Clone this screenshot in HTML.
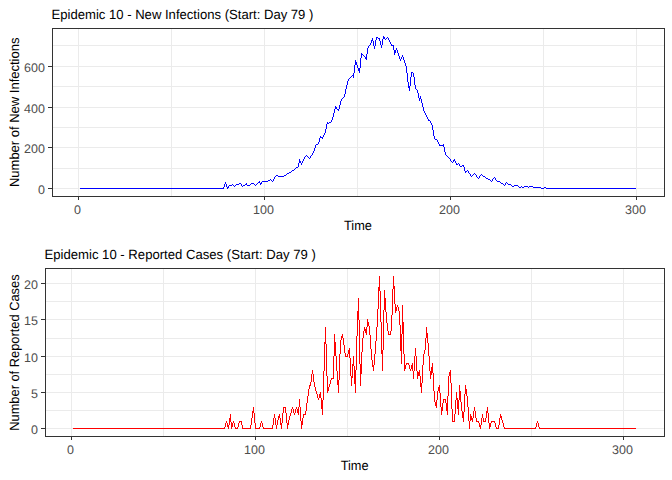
<!DOCTYPE html>
<html><head><meta charset="utf-8"><title>Epidemic 10</title>
<style>html,body{margin:0;padding:0;background:#fff;overflow:hidden}svg{display:block}</style>
</head><body>
<svg width="672" height="480" viewBox="0 0 672 480" shape-rendering="crispEdges">
<rect width="672" height="480" fill="#fff"/>
<path d="M52.5 168.5H664.5M52.5 127.5H664.5M52.5 86.5H664.5M52.5 45.5H664.5M52.5 188.5H664.5M52.5 147.5H664.5M52.5 107.5H664.5M52.5 66.5H664.5M171.5 28.5V196.5M357.5 28.5V196.5M543.5 28.5V196.5M78.5 28.5V196.5M264.5 28.5V196.5M450.5 28.5V196.5M636.5 28.5V196.5" stroke="#ebebeb" stroke-width="1" fill="none"/>
<path d="M45.5 410.5H664.5M45.5 374.5H664.5M45.5 338.5H664.5M45.5 301.5H664.5M45.5 428.5H664.5M45.5 392.5H664.5M45.5 356.5H664.5M45.5 319.5H664.5M45.5 283.5H664.5M163.5 268.5V436.5M347.5 268.5V436.5M531.5 268.5V436.5M71.5 268.5V436.5M255.5 268.5V436.5M439.5 268.5V436.5M623.5 268.5V436.5" stroke="#ebebeb" stroke-width="1" fill="none"/>
<path d="M383 36h1v3h-1zM377 37h1v1h-1zM387 37h1v1h-1zM384 37h1v2h-1zM376 37h1v3h-1zM378 38h1v1h-1zM386 38h1v1h-1zM388 38h1v2h-1zM372 38h1v3h-1zM379 38h1v3h-1zM385 39h1v1h-1zM382 39h1v6h-1zM389 40h1v2h-1zM371 40h1v3h-1zM375 40h1v6h-1zM380 41h1v4h-1zM373 41h1v5h-1zM390 42h1v2h-1zM370 43h1v2h-1zM391 44h1v2h-1zM369 45h1v1h-1zM392 45h1v1h-1zM381 45h1v3h-1zM393 45h1v5h-1zM368 46h1v2h-1zM374 46h1v3h-1zM396 48h1v2h-1zM367 48h1v6h-1zM395 50h1v3h-1zM397 50h1v3h-1zM394 50h1v5h-1zM398 53h1v3h-1zM361 53h1v5h-1zM362 54h1v1h-1zM366 54h1v6h-1zM363 55h1v1h-1zM402 55h1v2h-1zM364 56h1v1h-1zM399 56h1v3h-1zM365 57h1v2h-1zM401 57h1v2h-1zM403 57h1v3h-1zM360 58h1v10h-1zM400 59h1v2h-1zM404 60h1v3h-1zM355 60h1v5h-1zM356 62h1v3h-1zM405 63h1v3h-1zM357 65h1v3h-1zM354 65h1v8h-1zM406 66h1v7h-1zM358 68h1v3h-1zM359 68h1v5h-1zM412 72h1v1h-1zM411 72h1v5h-1zM413 73h1v4h-1zM353 73h1v5h-1zM407 73h1v9h-1zM352 75h1v1h-1zM351 76h1v1h-1zM350 77h1v1h-1zM414 77h1v8h-1zM410 77h1v9h-1zM349 78h1v1h-1zM348 79h1v2h-1zM347 81h1v4h-1zM408 82h1v6h-1zM346 85h1v4h-1zM415 85h1v4h-1zM409 86h1v5h-1zM416 89h1v1h-1zM345 89h1v5h-1zM417 90h1v3h-1zM418 93h1v5h-1zM344 94h1v3h-1zM420 96h1v3h-1zM343 97h1v1h-1zM342 98h1v1h-1zM419 98h1v3h-1zM341 99h1v2h-1zM421 99h1v4h-1zM340 101h1v4h-1zM422 103h1v4h-1zM339 105h1v4h-1zM335 106h1v3h-1zM336 107h1v2h-1zM423 107h1v4h-1zM337 109h1v1h-1zM338 109h1v2h-1zM334 109h1v4h-1zM424 111h1v2h-1zM425 113h1v2h-1zM333 113h1v4h-1zM426 115h1v2h-1zM427 117h1v2h-1zM332 117h1v3h-1zM428 119h1v2h-1zM429 120h1v1h-1zM331 120h1v2h-1zM430 121h1v2h-1zM329 122h2v1h-2zM327 122h1v2h-1zM328 123h1v1h-1zM431 123h1v2h-1zM326 124h1v5h-1zM432 125h1v5h-1zM325 129h1v4h-1zM433 130h1v6h-1zM324 133h1v2h-1zM323 135h1v2h-1zM320 136h1v2h-1zM434 136h1v3h-1zM321 137h1v1h-1zM322 137h1v2h-1zM319 138h1v4h-1zM435 139h2v1h-2zM437 140h1v2h-1zM318 142h1v2h-1zM438 142h1v2h-1zM316 144h2v1h-2zM439 144h1v2h-1zM443 144h1v3h-1zM440 145h3v1h-3zM315 145h1v3h-1zM444 147h1v5h-1zM314 148h1v3h-1zM313 151h1v2h-1zM445 152h1v3h-1zM312 153h1v2h-1zM306 155h1v1h-1zM311 155h1v1h-1zM446 155h1v1h-1zM305 156h1v1h-1zM307 156h1v1h-1zM447 156h1v1h-1zM310 156h1v2h-1zM308 157h1v1h-1zM448 157h1v1h-1zM304 157h1v2h-1zM309 158h1v1h-1zM449 158h1v1h-1zM303 159h1v2h-1zM450 159h1v2h-1zM454 159h1v2h-1zM299 159h1v4h-1zM453 160h1v2h-1zM451 161h1v1h-1zM300 161h1v2h-1zM302 161h1v2h-1zM455 161h1v2h-1zM452 162h1v1h-1zM458 163h1v1h-1zM301 163h1v2h-1zM456 163h1v2h-1zM298 163h1v4h-1zM457 164h1v1h-1zM459 164h1v2h-1zM462 165h1v1h-1zM463 165h1v2h-1zM460 166h2v1h-2zM296 167h2v1h-2zM464 167h1v4h-1zM295 168h1v1h-1zM294 169h1v1h-1zM292 170h2v1h-2zM467 170h1v1h-1zM291 171h1v1h-1zM466 171h1v1h-1zM465 171h1v2h-1zM468 171h1v2h-1zM289 172h2v1h-2zM287 173h2v1h-2zM469 173h1v1h-1zM474 173h1v1h-1zM286 174h1v1h-1zM473 174h1v1h-1zM475 174h1v1h-1zM481 174h1v1h-1zM470 174h1v2h-1zM276 175h2v1h-2zM284 175h2v1h-2zM472 175h1v1h-1zM480 175h1v1h-1zM482 175h1v1h-1zM476 175h1v2h-1zM275 176h1v1h-1zM278 176h6v1h-6zM471 176h1v1h-1zM483 176h2v1h-2zM479 176h1v2h-1zM477 177h1v1h-1zM485 177h1v1h-1zM494 177h1v1h-1zM274 177h1v2h-1zM478 178h1v1h-1zM486 178h2v1h-2zM493 178h1v1h-1zM495 178h1v2h-1zM270 179h1v1h-1zM488 179h2v1h-2zM273 179h1v2h-1zM492 179h1v2h-1zM268 180h2v1h-2zM271 180h1v1h-1zM490 180h1v1h-1zM496 180h1v1h-1zM262 181h6v1h-6zM272 181h1v1h-1zM491 181h1v1h-1zM497 181h3v1h-3zM259 181h1v2h-1zM258 182h1v1h-1zM500 182h1v1h-1zM506 182h1v1h-1zM225 182h1v2h-1zM261 182h1v2h-1zM239 183h2v1h-2zM251 183h3v1h-3zM257 183h1v1h-1zM501 183h2v1h-2zM507 183h1v1h-1zM246 183h1v2h-1zM260 183h1v2h-1zM505 183h1v2h-1zM232 184h1v1h-1zM236 184h3v1h-3zM245 184h1v1h-1zM250 184h1v1h-1zM254 184h1v1h-1zM256 184h1v1h-1zM503 184h1v1h-1zM508 184h3v1h-3zM241 184h1v2h-1zM224 184h1v3h-1zM226 184h1v3h-1zM229 185h3v1h-3zM233 185h1v1h-1zM235 185h1v1h-1zM243 185h2v1h-2zM247 185h3v1h-3zM255 185h1v1h-1zM504 185h1v1h-1zM511 185h1v1h-1zM514 185h4v1h-4zM234 186h1v1h-1zM242 186h1v1h-1zM512 186h2v1h-2zM518 186h1v1h-1zM521 186h1v1h-1zM524 186h4v1h-4zM529 186h4v1h-4zM228 186h1v2h-1zM519 187h2v1h-2zM522 187h2v1h-2zM528 187h1v1h-1zM533 187h8v1h-8zM544 187h2v1h-2zM223 187h1v2h-1zM227 187h1v2h-1zM80 188h143v1h-143zM541 188h3v1h-3zM546 188h90v1h-90z" fill="#0000ff"/>
<path d="M393 276h1v13h-1zM379 276h1v15h-1zM394 286h1v18h-1zM378 287h1v22h-1zM392 289h1v26h-1zM384 290h1v20h-1zM380 291h1v31h-1zM385 298h1v14h-1zM358 298h1v22h-1zM395 304h1v9h-1zM397 305h1v2h-1zM402 305h1v29h-1zM396 307h1v4h-1zM398 307h1v4h-1zM377 309h1v18h-1zM383 310h1v40h-1zM399 311h1v14h-1zM357 311h1v25h-1zM386 312h1v11h-1zM391 315h1v16h-1zM367 319h1v8h-1zM359 320h1v44h-1zM368 322h1v4h-1zM381 322h1v32h-1zM403 322h1v32h-1zM387 323h1v8h-1zM400 325h1v26h-1zM369 326h1v9h-1zM364 327h1v4h-1zM366 327h1v8h-1zM426 327h1v11h-1zM376 327h1v14h-1zM325 327h1v17h-1zM365 329h1v4h-1zM388 331h1v4h-1zM390 331h1v4h-1zM363 331h1v7h-1zM427 333h1v10h-1zM389 334h1v1h-1zM342 334h1v4h-1zM334 334h1v22h-1zM401 334h1v30h-1zM370 335h1v14h-1zM341 336h1v4h-1zM356 336h1v34h-1zM343 338h1v7h-1zM425 338h1v12h-1zM362 338h1v14h-1zM340 340h1v14h-1zM375 341h1v13h-1zM335 342h1v14h-1zM324 342h1v29h-1zM428 343h1v13h-1zM326 344h1v32h-1zM344 345h1v8h-1zM415 348h1v8h-1zM349 348h1v10h-1zM371 349h1v11h-1zM348 350h1v4h-1zM424 350h1v4h-1zM382 350h1v21h-1zM361 352h1v22h-1zM345 353h1v4h-1zM347 354h1v3h-1zM374 354h1v11h-1zM423 354h1v11h-1zM404 354h1v17h-1zM339 354h1v26h-1zM346 356h1v1h-1zM353 356h1v10h-1zM336 356h1v15h-1zM414 356h1v15h-1zM416 356h1v15h-1zM429 356h1v15h-1zM333 356h1v23h-1zM350 358h1v18h-1zM372 360h1v7h-1zM407 363h1v1h-1zM406 363h1v2h-1zM408 363h1v2h-1zM412 363h1v8h-1zM432 363h1v10h-1zM352 364h1v14h-1zM360 364h1v22h-1zM405 365h1v4h-1zM409 365h1v4h-1zM411 365h1v4h-1zM373 365h1v6h-1zM422 365h1v18h-1zM354 366h1v18h-1zM431 367h1v8h-1zM410 369h1v2h-1zM312 370h1v4h-1zM419 370h1v6h-1zM450 370h1v13h-1zM355 370h1v23h-1zM413 371h1v8h-1zM417 371h1v8h-1zM430 371h1v8h-1zM337 371h1v14h-1zM323 371h1v29h-1zM418 372h1v4h-1zM449 372h1v4h-1zM433 373h1v18h-1zM311 374h1v8h-1zM313 374h1v8h-1zM351 376h1v10h-1zM420 376h1v11h-1zM327 376h1v17h-1zM448 376h1v20h-1zM332 378h1v1h-1zM331 378h1v2h-1zM330 380h1v4h-1zM338 380h1v13h-1zM310 382h1v4h-1zM314 382h1v5h-1zM421 383h1v10h-1zM451 383h1v26h-1zM329 384h1v3h-1zM309 385h1v4h-1zM439 385h1v8h-1zM465 385h1v9h-1zM459 385h1v15h-1zM315 387h1v4h-1zM328 387h1v4h-1zM438 387h1v4h-1zM308 389h1v7h-1zM466 389h1v7h-1zM316 391h1v3h-1zM437 391h1v9h-1zM434 391h1v11h-1zM460 391h1v11h-1zM320 392h1v6h-1zM456 392h1v8h-1zM440 393h1v14h-1zM317 394h1v4h-1zM319 394h1v4h-1zM464 394h1v18h-1zM307 396h1v7h-1zM467 396h1v11h-1zM447 396h1v19h-1zM318 398h1v2h-1zM321 398h1v11h-1zM457 398h1v11h-1zM444 399h1v1h-1zM443 399h1v4h-1zM445 399h1v4h-1zM299 399h1v8h-1zM436 400h1v8h-1zM455 400h1v14h-1zM322 400h1v15h-1zM458 400h1v15h-1zM435 402h1v4h-1zM461 402h1v9h-1zM306 403h1v8h-1zM442 403h1v8h-1zM446 403h1v8h-1zM284 407h1v1h-1zM292 407h1v2h-1zM296 407h1v2h-1zM474 407h1v4h-1zM253 407h1v6h-1zM283 407h1v6h-1zM285 407h1v6h-1zM487 407h1v6h-1zM298 407h1v8h-1zM441 407h1v8h-1zM300 407h1v14h-1zM468 407h1v14h-1zM291 409h1v4h-1zM293 409h1v4h-1zM295 409h1v4h-1zM297 409h1v4h-1zM452 409h1v13h-1zM305 411h1v4h-1zM252 411h1v7h-1zM462 411h1v7h-1zM473 411h1v7h-1zM475 411h1v7h-1zM486 411h1v7h-1zM463 412h1v10h-1zM294 413h1v2h-1zM290 413h1v3h-1zM254 413h1v10h-1zM282 413h1v10h-1zM286 413h1v10h-1zM488 413h1v10h-1zM304 414h1v1h-1zM274 414h1v4h-1zM279 414h1v4h-1zM303 414h1v4h-1zM482 414h1v4h-1zM500 414h1v4h-1zM470 414h1v7h-1zM230 414h1v8h-1zM454 414h1v8h-1zM278 416h1v4h-1zM289 416h1v4h-1zM471 416h1v4h-1zM501 416h1v4h-1zM472 418h1v4h-1zM476 418h1v4h-1zM483 418h1v4h-1zM485 418h1v4h-1zM229 418h1v7h-1zM251 418h1v7h-1zM273 418h1v7h-1zM275 418h1v7h-1zM280 418h1v7h-1zM302 418h1v7h-1zM481 418h1v7h-1zM499 418h1v7h-1zM502 420h1v3h-1zM277 420h1v5h-1zM288 420h1v5h-1zM240 421h1v1h-1zM453 421h1v1h-1zM477 421h1v1h-1zM484 421h1v1h-1zM492 421h2v1h-2zM226 421h1v2h-1zM233 421h1v2h-1zM239 421h1v2h-1zM261 421h1v2h-1zM478 421h1v2h-1zM491 421h1v2h-1zM494 421h1v2h-1zM537 421h1v2h-1zM241 421h1v4h-1zM301 421h1v8h-1zM469 421h1v8h-1zM231 422h1v7h-1zM225 423h1v4h-1zM227 423h1v4h-1zM232 423h1v4h-1zM234 423h1v4h-1zM238 423h1v4h-1zM260 423h1v4h-1zM262 423h1v4h-1zM479 423h1v4h-1zM490 423h1v4h-1zM495 423h1v4h-1zM503 423h1v4h-1zM536 423h1v4h-1zM538 423h1v4h-1zM255 423h1v6h-1zM281 423h1v6h-1zM287 423h1v6h-1zM489 423h1v6h-1zM228 425h1v4h-1zM242 425h1v4h-1zM250 425h1v4h-1zM272 425h1v4h-1zM276 425h1v4h-1zM480 425h1v4h-1zM498 425h1v4h-1zM224 427h1v2h-1zM235 427h1v2h-1zM237 427h1v2h-1zM259 427h1v2h-1zM263 427h1v2h-1zM496 427h1v2h-1zM504 427h1v2h-1zM535 427h1v2h-1zM539 427h1v2h-1zM73 428h151v1h-151zM236 428h1v1h-1zM243 428h7v1h-7zM256 428h3v1h-3zM264 428h8v1h-8zM497 428h1v1h-1zM505 428h30v1h-30zM540 428h96v1h-96z" fill="#ff0000"/>
<rect x="52.5" y="28.5" width="612.0" height="168.0" fill="none" stroke="#333" stroke-width="1"/>
<rect x="45.5" y="268.5" width="619.0" height="168.0" fill="none" stroke="#333" stroke-width="1"/>
<path d="M48.0 188.5H52.5M48.0 147.5H52.5M48.0 107.5H52.5M48.0 66.5H52.5M78.5 196.5V200.0M264.5 196.5V200.0M450.5 196.5V200.0M636.5 196.5V200.0M41.0 428.5H45.5M41.0 392.5H45.5M41.0 356.5H45.5M41.0 319.5H45.5M41.0 283.5H45.5M71.5 436.5V440.0M255.5 436.5V440.0M439.5 436.5V440.0M623.5 436.5V440.0" stroke="#333" stroke-width="1" fill="none"/>
<g font-family="Liberation Sans, sans-serif" shape-rendering="auto" text-rendering="geometricPrecision">
<g font-size="13.33" fill="#000">
<text x="51.5" y="19" textLength="261.9" lengthAdjust="spacingAndGlyphs">Epidemic 10 - New Infections (Start: Day 79 )</text>
<text x="44.5" y="259" textLength="271.3" lengthAdjust="spacingAndGlyphs">Epidemic 10 - Reported Cases (Start: Day 79 )</text>
<text x="344.0" y="229.5" textLength="27.9" lengthAdjust="spacingAndGlyphs">Time</text>
<text x="340.7" y="469.5" textLength="27.9" lengthAdjust="spacingAndGlyphs">Time</text>
<text transform="translate(19,112.3) rotate(-90)" text-anchor="middle" textLength="149.5" lengthAdjust="spacingAndGlyphs">Number of New Infections</text>
<text transform="translate(19,352.6) rotate(-90)" text-anchor="middle" textLength="156.4" lengthAdjust="spacingAndGlyphs">Number of Reported Cases</text>
</g>
<g font-size="12.5" fill="#4d4d4d">
<text x="44.9" y="194.0" text-anchor="end">0</text>
<text x="44.9" y="153.0" text-anchor="end">200</text>
<text x="44.9" y="113.0" text-anchor="end">400</text>
<text x="44.9" y="72.0" text-anchor="end">600</text>
<text x="77.5" y="214" text-anchor="middle">0</text>
<text x="263.5" y="214" text-anchor="middle">100</text>
<text x="449.5" y="214" text-anchor="middle">200</text>
<text x="635.5" y="214" text-anchor="middle">300</text>
<text x="37.9" y="434.0" text-anchor="end">0</text>
<text x="37.9" y="398.0" text-anchor="end">5</text>
<text x="37.9" y="362.0" text-anchor="end">10</text>
<text x="37.9" y="325.0" text-anchor="end">15</text>
<text x="37.9" y="289.0" text-anchor="end">20</text>
<text x="70.5" y="454" text-anchor="middle">0</text>
<text x="254.5" y="454" text-anchor="middle">100</text>
<text x="438.5" y="454" text-anchor="middle">200</text>
<text x="622.5" y="454" text-anchor="middle">300</text>
</g>
</g>
</svg>
</body></html>
